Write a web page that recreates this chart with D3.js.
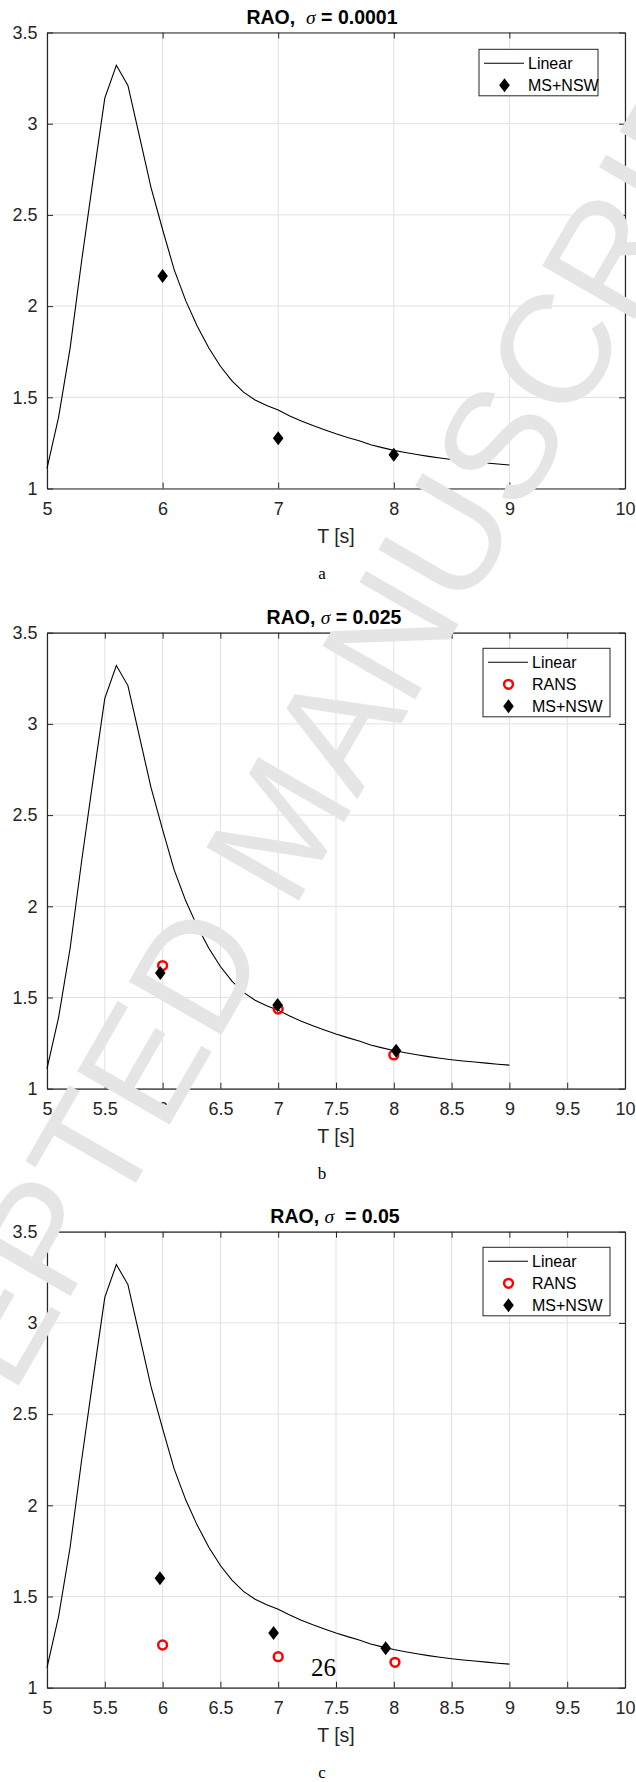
<!DOCTYPE html>
<html>
<head>
<meta charset="utf-8">
<script src="https://cdn.jsdelivr.net/npm/d3@7"></script>
<style>
  body { margin: 0; background: #fff; }
  svg { display: block; }
</style>
</head>
<body>
<svg id="fig" width="636" height="1782"></svg>
<script>
// linear theory curve, sampled every 0.1 s
const linearT = [5.0, 5.1, 5.2, 5.3, 5.4, 5.5, 5.6, 5.7, 5.8, 5.9,
                 6.0, 6.1, 6.2, 6.3, 6.4, 6.5, 6.6, 6.7, 6.8, 6.9,
                 7.0, 7.1, 7.2, 7.3, 7.4, 7.5, 7.6, 7.7, 7.8, 7.9,
                 8.0, 8.1, 8.2, 8.3, 8.4, 8.5, 8.6, 8.7, 8.8, 8.9, 9.0];
const linearRAO = [1.11, 1.39, 1.77, 2.25, 2.70, 3.14, 3.32, 3.21, 2.93, 2.65,
                   2.42, 2.20, 2.03, 1.89, 1.77, 1.67, 1.59, 1.528, 1.485, 1.455,
                   1.430, 1.398, 1.370, 1.345, 1.322, 1.300, 1.280, 1.262, 1.240, 1.224,
                   1.209, 1.197, 1.186, 1.176, 1.167, 1.159, 1.152, 1.146, 1.140, 1.134, 1.129];

// panel a : sigma = 0.0001
const msT_a = [6.0, 7.0, 8.0];
const msRAO_a = [2.165, 1.275, 1.185];

// panel b : sigma = 0.025
const ransT_b = [6.0, 7.0, 8.0];
const ransRAO_b = [1.675, 1.437, 1.185];
const msT_b = [5.98, 6.995, 8.02];
const msRAO_b = [1.635, 1.459, 1.208];

// panel c : sigma = 0.05
const ransT_c = [6.0, 7.0, 8.01];
const ransRAO_c = [1.234, 1.17, 1.139];
const msT_c = [5.977, 6.96, 7.93];
const msRAO_c = [1.60, 1.30, 1.216];

const xTicksA = [5, 6, 7, 8, 9, 10];
const xTicksBC = [5, 5.5, 6, 6.5, 7, 7.5, 8, 8.5, 9, 9.5, 10];
const yTicks = [1, 1.5, 2, 2.5, 3, 3.5];
const titleHeads = ["RAO,  ", "RAO, ", "RAO, "];
const sigmaValues = [" = 0.0001", " = 0.025", "  = 0.05"];
const captions = ["a", "b", "c"];

const svg = d3.select("#fig");
const left = 47, right = 625, plotH = 456;
const axisColor = "#262626";
const diamond = "M0,-7L5.3,0L0,7L-5.3,0Z";

const panels = [
  {top: 32.5, xTicks: xTicksA, titleX: 322, legendX: 479, legendW: 119,
   ms: [msT_a, msRAO_a], rans: null},
  {top: 632.7, xTicks: xTicksBC, titleX: 334, legendX: 483, legendW: 127,
   ms: [msT_b, msRAO_b], rans: [ransT_b, ransRAO_b]},
  {top: 1231.7, xTicks: xTicksBC, titleX: 335, legendX: 483, legendW: 127,
   ms: [msT_c, msRAO_c], rans: [ransT_c, ransRAO_c]}
];

panels.forEach((p, i) => {
  const g = svg.append("g");
  const bottom = p.top + plotH;
  const x = d3.scaleLinear().domain([5, 10]).range([left, right]);
  const y = d3.scaleLinear().domain([1, 3.5]).range([bottom, p.top]);

  // grid
  g.append("g").selectAll("line").data(p.xTicks).enter().append("line")
    .attr("x1", d => x(d)).attr("x2", d => x(d))
    .attr("y1", p.top).attr("y2", bottom)
    .attr("stroke", "#e1e1e1").attr("stroke-width", 1);
  g.append("g").selectAll("line").data(yTicks).enter().append("line")
    .attr("x1", left).attr("x2", right)
    .attr("y1", d => y(d)).attr("y2", d => y(d))
    .attr("stroke", "#e1e1e1").attr("stroke-width", 1);

  // axes, ticks inward like matlab
  const fmt = d3.format("~g");
  const ax = [
    g.append("g").attr("transform", `translate(0,${bottom})`)
      .call(d3.axisBottom(x).tickValues(p.xTicks).tickFormat(fmt).tickSizeInner(-6).tickSizeOuter(0).tickPadding(13.5)),
    g.append("g").attr("transform", `translate(${left},0)`)
      .call(d3.axisLeft(y).tickValues(yTicks).tickFormat(fmt).tickSizeInner(-6).tickSizeOuter(0).tickPadding(9.5)),
    g.append("g").attr("transform", `translate(0,${p.top})`)
      .call(d3.axisTop(x).tickValues(p.xTicks).tickFormat("").tickSizeInner(-6).tickSizeOuter(0)),
    g.append("g").attr("transform", `translate(${right},0)`)
      .call(d3.axisRight(y).tickValues(yTicks).tickFormat("").tickSizeInner(-6).tickSizeOuter(0))
  ];
  ax.forEach(a => {
    a.select(".domain").attr("stroke", axisColor).attr("stroke-width", 1.2);
    a.selectAll(".tick line").attr("stroke", axisColor).attr("stroke-width", 1);
    a.selectAll("text").attr("fill", "#262626")
      .style("font-family", "'Liberation Sans', Arial, sans-serif").style("font-size", "18px");
  });

  // linear curve
  g.append("path")
    .datum(linearT.map((t, k) => [t, linearRAO[k]]))
    .attr("fill", "none").attr("stroke", "#000").attr("stroke-width", 1.1)
    .attr("d", d3.line().x(d => x(d[0])).y(d => y(d[1])));

  if (p.rans) {
    g.append("g").selectAll("circle").data(p.rans[0]).enter().append("circle")
      .attr("cx", d => x(d)).attr("cy", (d, k) => y(p.rans[1][k])).attr("r", 4.4)
      .attr("fill", "none").attr("stroke", "#ff0000").attr("stroke-width", 2.5);
  }
  g.append("g").selectAll("path").data(p.ms[0]).enter().append("path")
    .attr("d", diamond)
    .attr("transform", (d, k) => `translate(${x(d)},${y(p.ms[1][k])})`)
    .attr("fill", "#000");

  // title
  const title = g.append("text")
    .attr("x", p.titleX).attr("y", p.top - 8.5)
    .attr("text-anchor", "middle")
    .style("white-space", "pre")
    .style("font-family", "'Liberation Sans', Arial, sans-serif")
    .style("font-size", "19.5px").style("font-weight", "bold");
  title.append("tspan").text(titleHeads[i]);
  title.append("tspan").text("σ")
    .style("font-family", "'Liberation Serif', 'Times New Roman', serif")
    .style("font-style", "italic").style("font-weight", "normal");
  title.append("tspan").text(sigmaValues[i]);

  // x label
  g.append("text")
    .attr("x", (left + right) / 2).attr("y", bottom + 54)
    .attr("text-anchor", "middle").attr("fill", "#262626")
    .style("font-family", "'Liberation Sans', Arial, sans-serif").style("font-size", "19.5px")
    .text("T [s]");

  // legend
  const entries = [{name: "Linear", kind: "line"}];
  if (p.rans) entries.push({name: "RANS", kind: "circle"});
  entries.push({name: "MS+NSW", kind: "diamond"});
  const ly = p.top + (p.rans ? 15.6 : 16.8);
  const lg = g.append("g").attr("transform", `translate(${p.legendX},${ly})`);
  lg.append("rect").attr("width", p.legendW).attr("height", 24.5 + 22 * (entries.length - 1))
    .attr("fill", "#fff").attr("stroke", axisColor).attr("stroke-width", 1);
  entries.forEach((e, k) => {
    const ry = 14 + 22 * k;
    if (e.kind === "line") {
      lg.append("line").attr("x1", 5).attr("x2", 45).attr("y1", ry).attr("y2", ry)
        .attr("stroke", "#000").attr("stroke-width", 1.1);
    } else if (e.kind === "circle") {
      lg.append("circle").attr("cx", 25.5).attr("cy", ry).attr("r", 4.4)
        .attr("fill", "none").attr("stroke", "#ff0000").attr("stroke-width", 2.5);
    } else {
      lg.append("path").attr("d", diamond).attr("transform", `translate(25.5,${ry})`).attr("fill", "#000");
    }
    lg.append("text").attr("x", 49).attr("y", ry).attr("dy", "0.35em")
      .attr("fill", "#000")
      .style("font-family", "'Liberation Sans', Arial, sans-serif").style("font-size", "16px")
      .text(e.name);
  });

  // caption below the figure
  g.append("text")
    .attr("x", 322).attr("y", bottom + 90)
    .attr("text-anchor", "middle")
    .style("font-family", "'Liberation Serif', 'Times New Roman', serif").style("font-size", "17px")
    .text(captions[i]);
});

// page number
svg.append("text")
  .attr("x", 323.6).attr("y", 1676)
  .attr("text-anchor", "middle")
  .style("font-family", "'Liberation Serif', 'Times New Roman', serif").style("font-size", "25px")
  .text("26");

// journal watermark, on top
svg.append("text")
  .attr("transform", "translate(278.6,824.1) rotate(-60)")
  .attr("text-anchor", "middle").attr("dy", "0.36em")
  .attr("fill", "#e5e5e5")
  .style("font-family", "'Liberation Sans', Arial, sans-serif").style("font-size", "155px")
  .text("ACCEPTED MANUSCRIPT");
</script>
</body>
</html>
